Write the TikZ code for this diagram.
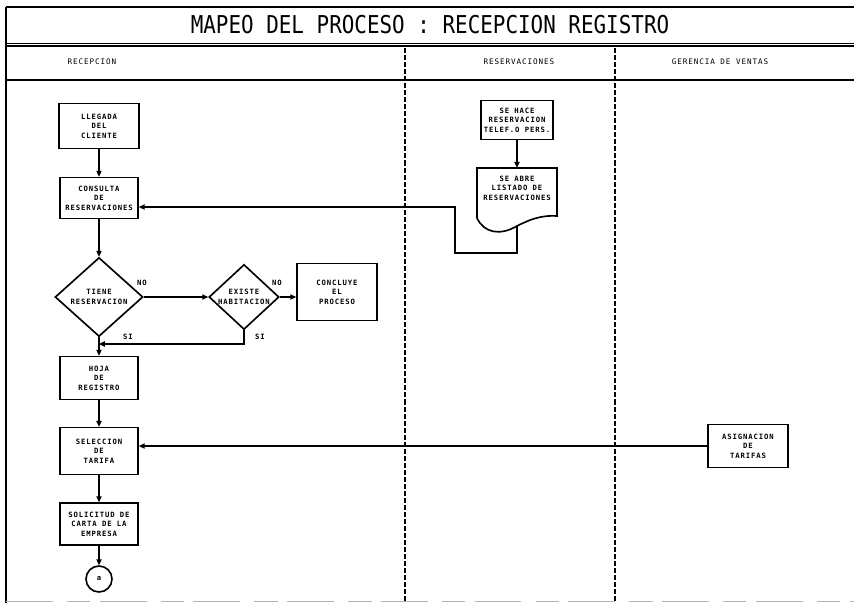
\documentclass[tikz,border=0pt]{standalone}
\usepackage{fontspec}
\usepackage{tikz}
\usetikzlibrary{shapes.geometric,arrows.meta}
\newfontfamily\monofont[LetterSpace=12]{DejaVu Sans Mono}
\newfontfamily\titlefont[FakeStretch=0.85]{DejaVu Sans Mono}
\newcommand{\cajafont}{\monofont\bfseries\fontsize{6.2}{8}\selectfont}
\newcommand{\carrilfont}{\monofont\fontsize{6.5}{8}\selectfont}

\begin{document}
\begin{tikzpicture}[x=0.03cm,y=-0.03cm,
    caja/.style={draw,line width=1.4pt,align=center,font=\cajafont,inner sep=1pt},
    rombo/.style={draw,diamond,line width=1.4pt,align=center,font=\cajafont,inner sep=0pt},
    flecha/.style={line width=1pt,-{Triangle[length=5pt,width=4.5pt]}},
    carril/.style={line width=1.2pt,dash pattern=on 4.3pt off 1.7pt},
    marco/.style={line width=1.6pt},
    etiqueta/.style={font=\cajafont,inner sep=0pt}]
    \useasboundingbox (0,0) rectangle (854,603);

    % marco y carriles
    \draw[marco] (6,7) -- (854,7);
    \draw[line width=0.8pt] (6,43) -- (854,43);
    \draw[marco] (6,46) -- (854,46);
    \draw[marco] (6,80) -- (854,80);
    \draw[marco] (6,7) -- (6,603);
    \draw[gray!60,line width=0.8pt,dash pattern=on 40pt off 12pt on 20pt off 8pt] (6,601) -- (854,601);
    \draw[carril] (405,48) -- (405,601);
    \draw[carril] (615,48) -- (615,601);

    \node[font=\titlefont\fontsize{21}{24}\selectfont] (titulo) at (430,25) {MAPEO DEL PROCESO : RECEPCION REGISTRO};
    \node[font=\carrilfont] (recepcion) at (92,62) {RECEPCION};
    \node[font=\carrilfont] (reservaciones) at (519,62) {RESERVACIONES};
    \node[font=\carrilfont] (gerencia) at (720,62) {GERENCIA DE VENTAS};

    % recepcion
    \node[caja,minimum width=68.3pt,minimum height=38.4pt] (llegada) at (99,126) {LLEGADA\\DEL\\CLIENTE};
    \node[caja,minimum width=66.6pt,minimum height=35pt] (consulta) at (99,198) {CONSULTA\\DE\\RESERVACIONES};
    \node[rombo,minimum width=75pt,minimum height=67.4pt] (tiene) at (99,297) {TIENE\\RESERVACION};
    \node[rombo,aspect=1.1,minimum width=59.8pt,minimum height=55.5pt] (existe) at (244,297) {EXISTE\\HABITACION};
    \node[caja,minimum width=68.3pt,minimum height=48.7pt] (concluye) at (337,292) {CONCLUYE\\EL\\PROCESO};
    \node[caja,minimum width=66.6pt,minimum height=36.7pt] (hoja) at (99,378) {HOJA\\DE\\REGISTRO};
    \node[caja,minimum width=66.6pt,minimum height=40pt] (seleccion) at (99,451) {SELECCION\\DE\\TARIFA};
    \node[caja,minimum width=66.6pt,minimum height=35.9pt] (solicitud) at (99,524) {SOLICITUD DE\\CARTA DE LA\\EMPRESA};
    \node[draw,circle,line width=1.4pt,minimum size=22.2pt,inner sep=0pt,font=\cajafont] (conector) at (99,579) {a};

    % reservaciones
    \node[caja,minimum width=61.5pt,minimum height=33.3pt] (sehace) at (517,120) {SE HACE\\RESERVACION\\TELEF.O PERS.};
    \node[align=center,font=\cajafont,inner sep=0pt,minimum width=68.3pt,minimum height=34.1pt] (listado) at (517,188) {SE ABRE\\LISTADO DE\\RESERVACIONES};
    \draw[line width=1.4pt] (477,218) -- (477,168) -- (557,168) -- (557,216)
        .. controls (540,215) and (529,220) .. (517,226)
        .. controls (500,236) and (484,233) .. (477,218);

    % gerencia de ventas
    \node[caja,minimum width=68.3pt,minimum height=36.7pt] (asignacion) at (748,446) {ASIGNACION\\DE\\TARIFAS};

    % conectores
    \coordinate (ola) at (517,226);
    \coordinate (esq1) at (517,253);
    \coordinate (esq2) at (455,253);
    \coordinate (esq3) at (455,207);
    \coordinate (union) at (99,344);
    \draw[flecha] (llegada) -- (consulta);
    \draw[flecha] (consulta) -- (tiene);
    \draw[flecha] (tiene.east) -- (existe.west);
    \draw[flecha] (existe.east) -- (existe.east -| concluye.west);
    \draw[flecha] (existe.south) |- (union);
    \draw[flecha] (tiene) -- (hoja);
    \draw[flecha] (hoja) -- (seleccion);
    \draw[flecha] (seleccion) -- (solicitud);
    \draw[flecha] (solicitud) -- (conector);
    \draw[flecha] (sehace) -- (listado);
    \draw[flecha] (ola) -- (esq1) -- (esq2) -- (esq3) -- (consulta.east |- esq3);
    \draw[flecha] (asignacion.west) -- (seleccion.east |- asignacion.west);

    \node[etiqueta] (no1) at (142,283) {NO};
    \node[etiqueta] (no2) at (277,283) {NO};
    \node[etiqueta] (si1) at (128,337) {SI};
    \node[etiqueta] (si2) at (260,337) {SI};
\end{tikzpicture}
\end{document}
